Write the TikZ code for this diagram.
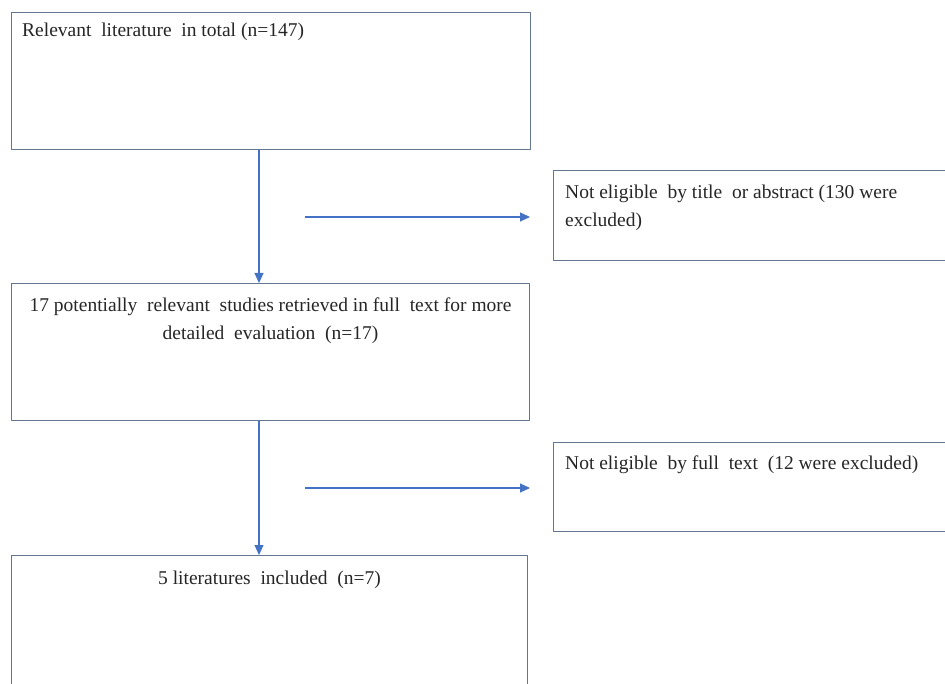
\documentclass[tikz,border=0pt]{standalone}
\usepackage{fontspec}
\setmainfont{Liberation Serif}
\usetikzlibrary{arrows.meta,positioning}
\definecolor{boxline}{RGB}{98,118,146}
\definecolor{flowblue}{RGB}{68,114,196}
\begin{document}
\begin{tikzpicture}[x=1pt,y=-1pt, line join=round,
	box/.style={draw=boxline, line width=1.1pt, rectangle, inner sep=0pt, anchor=north west},
	txt/.style={inner sep=0pt, font=\fontsize{19.5}{28}\selectfont, text=black!85},
	flow/.style={draw=flowblue, line width=1.1pt, -{Triangle[length=10pt,width=9pt]}}]
	\useasboundingbox (0,0) rectangle (945,684);
	% boxes
	\node[box, minimum width=519pt, minimum height=137pt] (total) at (11,12) {};
	\node[box, minimum width=400pt, minimum height=90pt] (notitle) at (553,170) {};
	\node[box, minimum width=518pt, minimum height=137pt] (fulltext) at (11,283) {};
	\node[box, minimum width=400pt, minimum height=89pt] (notfull) at (553,442) {};
	\node[box, minimum width=516pt, minimum height=160pt] (included) at (11,555) {};
	% texts (base of a two-line node is its last line)
	\node[txt, anchor=base west] (totaltxt) at ([xshift=11pt,yshift=-25pt]total.north west)
		{Relevant\ \ literature\ \ in total (n=147)};
	\node[txt, anchor=base west, align=left] (notitletxt) at ([xshift=12pt,yshift=-57pt]notitle.north west)
		{Not eligible\ \ by title\ \ or abstract (130 were\\ excluded)};
	\node[txt, anchor=base, align=center] (fulltexttxt) at ([yshift=-57pt]fulltext.north)
		{17 potentially\ \ relevant\ \ studies retrieved in full\ \ text for more\\ detailed\ \ evaluation\ \ (n=17)};
	\node[txt, anchor=base west] (notfulltxt) at ([xshift=12pt,yshift=-27pt]notfull.north west)
		{Not eligible\ \ by full\ \ text\ \ (12 were excluded)};
	\node[txt, anchor=base] (includedtxt) at ([yshift=-29pt]included.north)
		{5 literatures\ \ included\ \ (n=7)};
	% connectors
	\draw[flow] ([xshift=248pt]total.south west) -- ([xshift=248pt]fulltext.north west);
	\draw[flow] ([xshift=248pt]fulltext.south west) -- ([xshift=248pt]included.north west);
	\coordinate (ex1) at (305,217);
	\coordinate (ex1end) at (530,217);
	\coordinate (ex2) at (305,488);
	\coordinate (ex2end) at (530,488);
	\draw[flow] (ex1) -- (ex1end);
	\draw[flow] (ex2) -- (ex2end);
\end{tikzpicture}
\end{document}
